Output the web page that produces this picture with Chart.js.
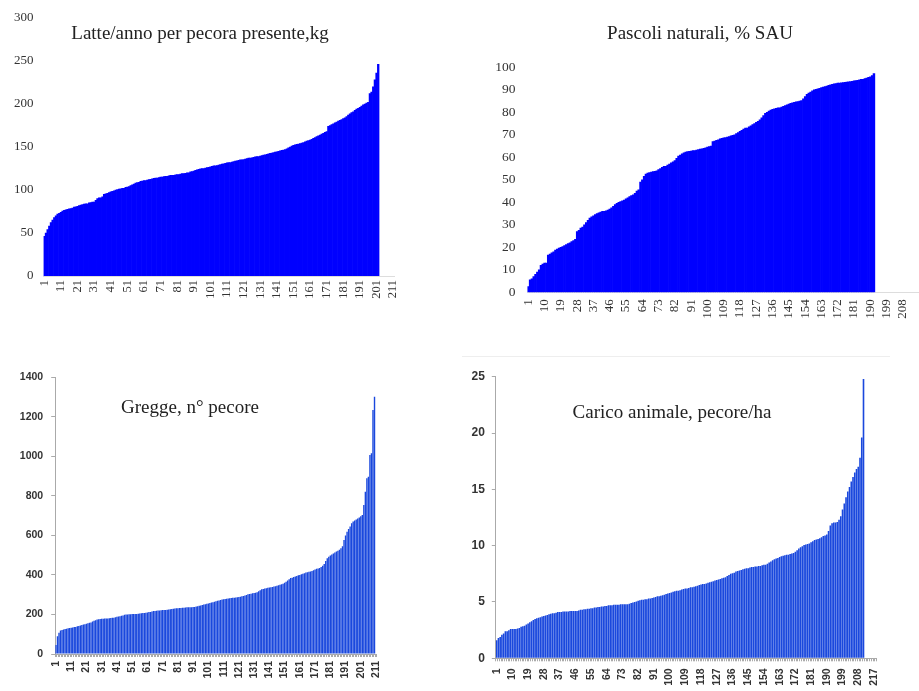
<!DOCTYPE html>
<html>
<head>
<meta charset="utf-8">
<script src="https://cdn.jsdelivr.net/npm/chart.js@4.4.1/dist/chart.umd.min.js"></script>
<style>
  html, body { margin: 0; padding: 0; background: #fff; overflow: hidden; width: 919px; height: 691px; }
  canvas { position: absolute; }
  .title { position: absolute; font-family: "Liberation Serif", serif; font-size: 19px; color: #222;
           white-space: nowrap; transform: translate(-50%, -50%); }
  .frame { position: absolute; left: 462px; top: 356px; width: 428px; border-top: 1px solid #eeeeee; }
</style>
</head>
<body>
<div class="frame"></div>
<canvas id="milk" width="460" height="345" style="left:0;top:0"></canvas>
<canvas id="pasture" width="480" height="345" style="left:460px;top:0"></canvas>
<canvas id="flock" width="460" height="346" style="left:0;top:345px"></canvas>
<canvas id="stocking" width="460" height="346" style="left:460px;top:345px"></canvas>
<div class="title" style="left:200px;top:33px">Latte/anno per pecora presente,kg</div>
<div class="title" style="left:700px;top:33px">Pascoli naturali, % SAU</div>
<div class="title" style="left:190px;top:407px">Gregge, n° pecore</div>
<div class="title" style="left:672px;top:412px">Carico animale, pecore/ha</div>
<script>
// farms sorted by value, one bar per farm
const milkKg = [46,50,54,58,62,65,68,70,72,73,
  74,75.5,76.5,77,77.5,78,78.5,79,80,80.5,
  81,82,82.5,83,83.5,84,84,85,85.5,86,
  86,88,90,91,91,92,95,95.5,96,97,
  98,98.5,99,100,100.5,101,101.5,102,102,103,
  103.5,104,105,106,107,108,108.5,109,110,110.5,
  111,111,111.5,112,112.5,113,113.5,114,114,114.5,
  115,115,115.5,116,116,116.5,117,117,117,117.5,
  118,118,118.5,119,119,119.5,120,120,121,121.5,
  122,123,123.5,124,124.5,125,125,125.5,126,126.5,
  127,127.5,128,128,128.5,129,129.5,130,130.5,131,
  131.5,132,132,132.5,133,133.5,134,134.5,135,135,
  135.5,136,136.5,137,137,137.5,138,138.5,139,139,
  139.5,140,140.5,141,141.5,142,142.5,143,143.5,144,
  144.5,145,145.5,146,146.5,147,148,149,150,151,
  152,152.5,153,153.5,154,154.5,155,156,157,157.5,
  158,159,160,161,162,163,164,165,166,167,
  168,174,175,176,177,178,179,180,181,182,
  183,184,185.5,187,188.5,190,191,192.5,194,195,
  196,197.5,199,200,201,202,212,214,220,228,
  236,246];

const pasturePct = [2.5,5.5,6,7,8,9,10,12,12.5,13,
  13,16.5,17,17.5,18,18.8,19.2,19.6,20,20.3,
  20.8,21.2,21.6,22,22.5,23,23.5,27,27.5,28.5,
  29,30,31,32,33,33.5,34,34.5,35,35.3,
  35.6,36,36,36.2,36.5,37,37.5,38.2,39,39.5,
  40,40.3,40.6,41,41.5,42,42.5,43,43.3,44,
  45,45.5,49,50,51.5,52.5,53,53.2,53.4,53.6,
  53.8,54,54.5,55,55.5,56,56,56.5,57,57.5,
  58,58.5,59.5,60.5,61,61.5,62,62.3,62.5,62.7,
  62.8,63,63,63.2,63.4,63.6,63.8,64,64.2,64.5,
  64.8,65,67,67.2,67.5,67.8,68.2,68.4,68.6,68.8,
  69,69.2,69.5,69.8,70,70.5,71,71.5,72,72.5,
  73,73,73.5,74,74.5,75,75.5,76,76.6,77.5,
  78.5,79.5,80,80.5,81,81.3,81.5,81.8,82,82,
  82.3,82.6,83,83.3,83.6,84,84.2,84.4,84.6,84.8,
  85,85.2,86,87,88,88.5,89,89.5,90,90.2,
  90.4,90.6,91,91.2,91.4,91.6,92,92.2,92.4,92.6,
  92.8,93,93,93.1,93.2,93.3,93.4,93.5,93.6,93.8,
  94,94.1,94.2,94.4,94.6,94.7,95,95.2,95.5,95.8,
  96.3,97.2];

const flockHead = [45,90,107,119,122,124,126,128,130,132,
  133,134,136,137,140,142,144,147,149,151,
  153,155,158,160,164,168,171,174,176,177,
  178,178,179,179,180,181,182,183,184,186,
  188,190,191,193,195,198,200,200,201,201,
  202,202,203,203,204,205,206,207,208,209,
  210,212,213,215,217,218,219,220,220,221,
  222,222,223,224,225,226,228,229,230,231,
  232,233,233,234,234,235,236,236,237,237,
  238,238,240,242,244,246,248,250,252,254,
  256,258,260,262,264,267,269,271,273,276,
  277,278,279,281,282,283,284,285,286,287,
  288,290,292,294,296,299,302,303,305,307,
  309,310,313,317,322,327,329,331,333,335,
  337,338,339,341,343,345,348,350,353,356,
  360,366,372,378,384,386,389,392,395,398,
  400,403,406,409,412,414,416,418,420,424,
  428,431,433,435,440,447,455,470,485,492,
  498,503,508,514,518,522,528,535,545,577,
  600,619,632,645,661,670,676,681,686,691,
  697,703,754,821,889,897,1007,1016,1235,1302];

const stockingRate = [1.6,1.8,1.9,2.1,2.2,2.4,2.4,2.5,2.6,2.6,
  2.6,2.6,2.65,2.7,2.8,2.85,2.9,3.0,3.1,3.2,
  3.3,3.4,3.5,3.55,3.6,3.65,3.7,3.75,3.8,3.85,
  3.9,3.95,4.0,4.0,4.05,4.1,4.1,4.1,4.15,4.15,
  4.15,4.15,4.2,4.2,4.2,4.2,4.2,4.25,4.3,4.3,
  4.35,4.35,4.4,4.4,4.45,4.45,4.5,4.5,4.55,4.55,
  4.6,4.6,4.65,4.65,4.7,4.7,4.7,4.75,4.75,4.75,
  4.75,4.8,4.8,4.8,4.8,4.8,4.85,4.9,4.95,5.0,
  5.05,5.1,5.15,5.2,5.2,5.25,5.25,5.3,5.3,5.35,
  5.4,5.45,5.5,5.5,5.55,5.6,5.65,5.7,5.75,5.8,
  5.85,5.9,5.95,6.0,6.0,6.05,6.1,6.15,6.2,6.2,
  6.25,6.3,6.3,6.35,6.4,6.45,6.5,6.55,6.6,6.6,
  6.65,6.7,6.75,6.8,6.85,6.9,6.95,7.0,7.05,7.1,
  7.15,7.2,7.3,7.4,7.5,7.55,7.6,7.7,7.75,7.8,
  7.85,7.9,7.95,8.0,8.0,8.05,8.1,8.1,8.15,8.15,
  8.2,8.2,8.25,8.3,8.3,8.4,8.5,8.6,8.7,8.8,
  8.85,8.9,9.0,9.05,9.1,9.15,9.2,9.2,9.25,9.3,
  9.35,9.45,9.6,9.75,9.85,9.95,10.05,10.1,10.15,10.2,
  10.3,10.4,10.5,10.55,10.6,10.65,10.75,10.85,10.9,11.0,
  11.3,11.8,12.0,12.05,12.05,12.1,12.3,12.6,13.2,13.75,
  14.3,14.8,15.2,15.7,16.1,16.5,16.8,17.0,17.8,19.6,
  24.8];

// number of farm slots on each x axis
const milkSlots = 211, pastureSlots = 216, flockSlots = 211, stockingSlots = 218;

function farmLabels(n) {
  const out = [];
  for (let i = 1; i <= n; i++) out.push(String(i));
  return out;
}

function drawPanel(id, values, slots, every, c) {
  new Chart(document.getElementById(id), {
    type: 'bar',
    data: {
      labels: farmLabels(slots),
      datasets: [{
        data: values,
        backgroundColor: c.color,
        borderWidth: 0,
        barPercentage: c.barPct,
        categoryPercentage: 1
      }]
    },
    options: {
      responsive: false,
      animation: false,
      devicePixelRatio: 1,
      layout: { padding: { top: c.top, right: c.right, left: 0, bottom: 0 } },
      plugins: { legend: { display: false }, tooltip: { enabled: false } },
      scales: {
        x: {
          grid: c.xGrid,
          border: { display: true, color: c.axisColor, width: 1 },
          ticks: {
            autoSkip: false, minRotation: 90, maxRotation: 90,
            padding: c.xPad, color: '#333', font: c.xFont,
            callback: function (v, i) { return i % every === 0 ? this.getLabelForValue(v) : ''; }
          },
          afterFit: s => { s.height = c.xh; }
        },
        y: {
          min: 0, max: c.max,
          grid: c.yGrid,
          border: { display: c.yBorder, color: c.axisColor },
          ticks: { stepSize: c.step, padding: c.yPad, color: '#333', font: c.yFont,
                   callback: v => String(v) },
          afterFit: s => { s.width = c.yw; }
        }
      }
    }
  });
}

const serif = { family: 'Liberation Serif', size: 13 };
const noGrid = { display: false, drawTicks: false };

drawPanel('milk', milkKg, milkSlots, 10, {
  color: '#0000ff', barPct: 1, top: 18, right: 66, yw: 43.5, xh: 69,
  max: 300, step: 50, xPad: 4, yPad: 10, xFont: { family: 'Liberation Serif', size: 12.5 }, yFont: serif,
  xGrid: noGrid, yGrid: noGrid, yBorder: false, axisColor: '#dddddd'
});

drawPanel('pasture', pasturePct, pastureSlots, 9, {
  color: '#0000ff', barPct: 1, top: 67.3, right: 10, yw: 67.4, xh: 52.7,
  max: 100, step: 10, xPad: 7, yPad: 12, xFont: { family: 'Liberation Serif', size: 13 },
  yFont: { family: 'Liberation Serif', size: 13.5 },
  xGrid: noGrid, yGrid: noGrid, yBorder: false, axisColor: '#dddddd'
});

drawPanel('flock', flockHead, flockSlots, 10, {
  color: '#1a48dd', barPct: 0.92, top: 32.3, right: 83.2, yw: 55.2, xh: 37,
  max: 1400, step: 200, xPad: 4, yPad: 8,
  xFont: { family: 'Liberation Sans', size: 10.5, weight: 'bold' },
  yFont: { family: 'Liberation Sans', size: 10.5, weight: 'bold' },
  xGrid: { display: true, drawOnChartArea: false, tickLength: 3, color: '#aaaaaa' },
  yGrid: { display: true, drawOnChartArea: false, tickLength: 4, color: '#aaaaaa' },
  yBorder: true, axisColor: '#aaaaaa'
});

drawPanel('stocking', stockingRate, stockingSlots, 9, {
  color: '#1a48dd', barPct: 0.92, top: 31.7, right: 43.4, yw: 35.8, xh: 32.7,
  max: 25, step: 5, xPad: 7, yPad: 7,
  xFont: { family: 'Liberation Sans', size: 10.5, weight: 'bold' },
  yFont: { family: 'Liberation Sans', size: 12, weight: 'bold' },
  xGrid: { display: true, drawOnChartArea: false, tickLength: 3, color: '#aaaaaa' },
  yGrid: { display: true, drawOnChartArea: false, tickLength: 4, color: '#aaaaaa' },
  yBorder: true, axisColor: '#aaaaaa'
});
</script>
</body>
</html>
